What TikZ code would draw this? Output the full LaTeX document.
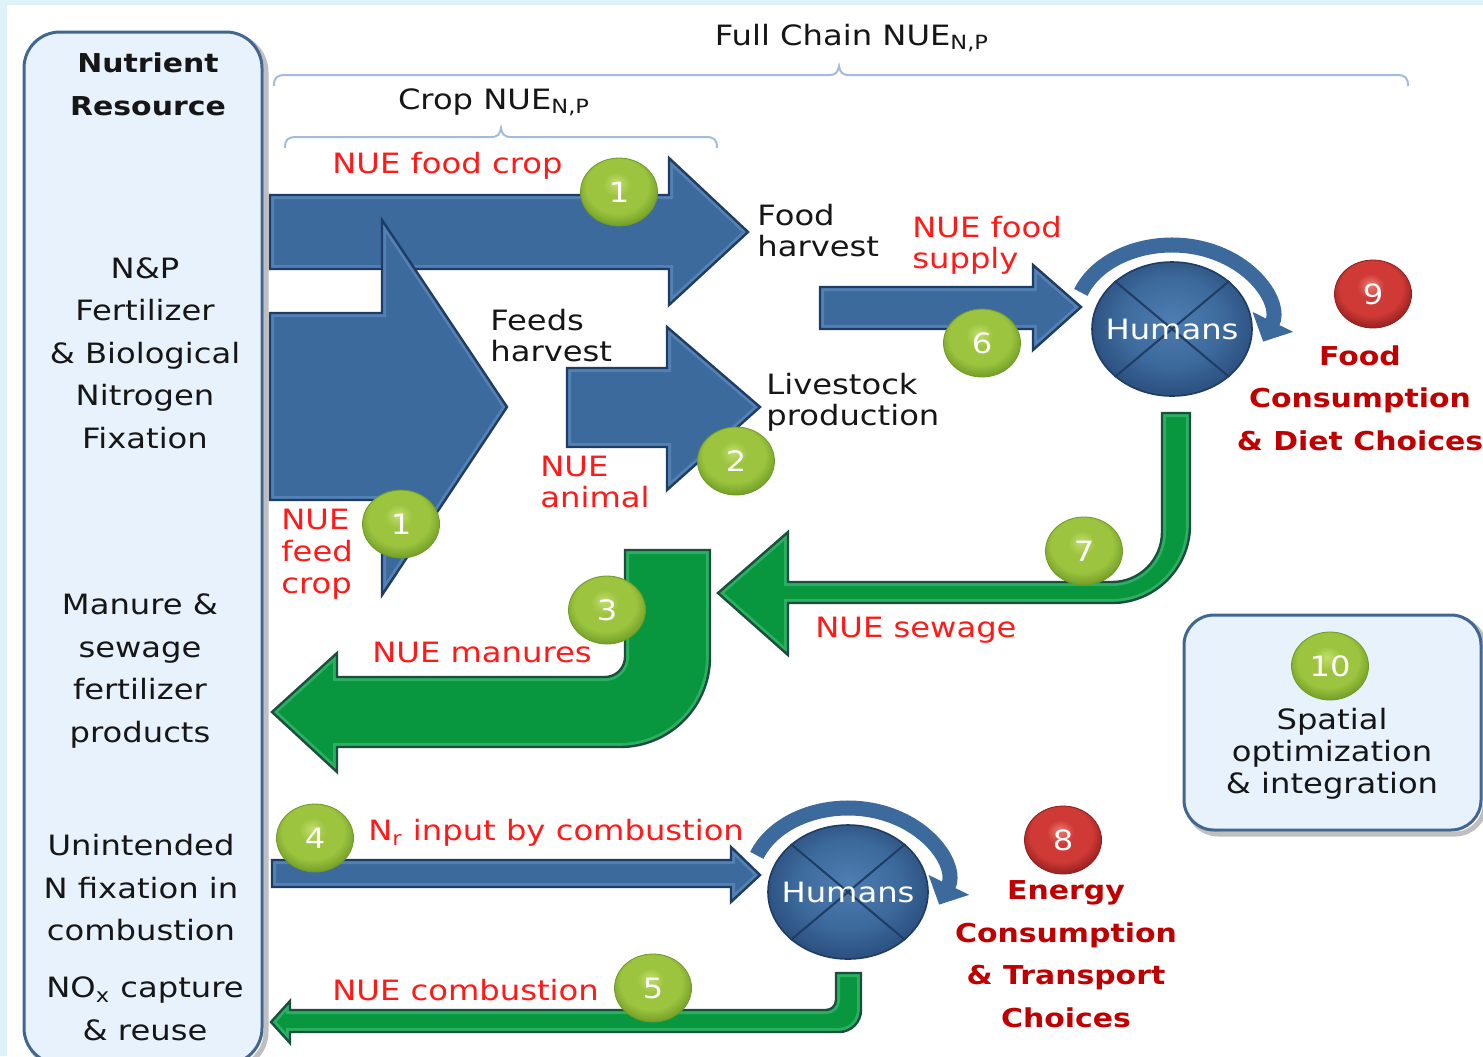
\documentclass[tikz,border=0pt]{standalone}
\usepackage{fontspec}
\setmainfont{DejaVu Sans}[FakeStretch=1.15]
\usetikzlibrary{arrows.meta,shapes.geometric}
\definecolor{bgc}{HTML}{DDF3F8}
\definecolor{boxfill}{HTML}{E8F2FC}
\definecolor{boxedge}{HTML}{41668F}
\definecolor{arrblue}{HTML}{3D6A9C}
\definecolor{arrbluelt}{HTML}{5381B6}
\definecolor{arrblueedge}{HTML}{1F3C62}
\definecolor{arrgreen}{HTML}{08963F}
\definecolor{arrgreenlt}{HTML}{2BB062}
\definecolor{arrgreenedge}{HTML}{1B4E3C}
\definecolor{bracec}{HTML}{A3BBDD}
\definecolor{lblred}{HTML}{FF1A1A}
\definecolor{darkred}{HTML}{C00000}
\definecolor{txt}{HTML}{161616}
\definecolor{gHi}{HTML}{C2DE6E}
\definecolor{gMid}{HTML}{9CC43F}
\definecolor{gRim}{HTML}{6E9A25}
\definecolor{rHi}{HTML}{EE7A74}
\definecolor{rMid}{HTML}{D03A36}
\definecolor{rRim}{HTML}{8F1D1C}
\definecolor{hHi}{HTML}{4E7DB2}
\definecolor{hRim}{HTML}{2A4F7E}
\pgfdeclareradialshading{greenbtn}{\pgfpoint{-2bp}{7bp}}{color(0bp)=(gHi); color(9bp)=(gMid); color(20bp)=(gMid); color(29bp)=(gRim); color(50bp)=(gRim)}
\pgfdeclareradialshading{redbtn}{\pgfpoint{-2bp}{7bp}}{color(0bp)=(rHi); color(9bp)=(rMid); color(20bp)=(rMid); color(29bp)=(rRim); color(50bp)=(rRim)}
\pgfdeclareradialshading{humansh}{\pgfpoint{0bp}{4bp}}{color(0bp)=(hHi); color(16bp)=(arrblue); color(27bp)=(hRim); color(50bp)=(hRim)}
\newcommand\pFood{(270,195) -- (669,195) -- (669,158) -- (748,232) -- (669,305) -- (669,269) -- (270,269) -- cycle}
\newcommand\pFeed{(270,313) -- (382,313) -- (382,220) -- (507,407) -- (382,595) -- (382,500) -- (270,500) -- cycle}
\newcommand\pAnim{(567,368) -- (667,368) -- (667,327) -- (760,407) -- (667,490) -- (667,447) -- (567,447) -- cycle}
\newcommand\pSupply{(820,287) -- (1033,287) -- (1033,265) -- (1081,307) -- (1033,350) -- (1033,329) -- (820,329) -- cycle}
\newcommand\pComb{(272,860) -- (731,860) -- (731,847) -- (760,875) -- (731,902) -- (731,887) -- (272,887) -- cycle}
\newcommand\pSewage{(1162,413) -- (1162,532) arc[start angle=0,end angle=90,radius=50] -- (788,582) -- (788,532) -- (718,593) -- (788,655) -- (788,603) -- (1112,603) arc[start angle=90,end angle=0,radius=78] -- (1190,413) -- cycle}
\newcommand\pManure{(625,550) -- (625,657) arc[start angle=0,end angle=90,radius=20] -- (337,677) -- (337,653) -- (272,712) -- (337,772) -- (337,747) -- (620,747) arc[start angle=90,end angle=0,radius=90] -- (710,550) -- cycle}
\newcommand\pCombOut{(836,973) -- (836,1000) arc[start angle=0,end angle=90,radius=10] -- (290,1010) -- (290,1001) -- (271,1022) -- (290,1043) -- (290,1032) -- (839,1032) arc[start angle=90,end angle=0,radius=22] -- (861,973) -- cycle}
\newcommand\bluearrow[1]{%
  \fill[arrblue] #1;
  \begin{scope}\clip #1; \draw[arrbluelt, line width=4pt, line join=miter] #1; \end{scope}
  \draw[arrblueedge, line width=1.2pt, line join=miter] #1;}
\newcommand\greenarrow[1]{%
  \fill[arrgreen] #1;
  \begin{scope}\clip #1; \draw[arrgreenlt, line width=4pt, line join=miter] #1; \end{scope}
  \draw[arrgreenedge, line width=1.2pt, line join=miter] #1;}
\begin{document}
\begin{tikzpicture}[x=0.5pt,y=-0.5pt,
  btn/.style={ellipse, minimum width=38.5pt, minimum height=34pt, inner sep=0pt, text=white, font=\fontsize{14}{14}\selectfont},
  gbtn/.style={btn, shade, shading=greenbtn, draw=gRim, line width=0.4pt},
  rbtn/.style={btn, shade, shading=redbtn, draw=rRim, line width=0.4pt},
  humans/.style={ellipse, minimum width=80pt, minimum height=67pt, inner sep=0pt, shade, shading=humansh, draw=arrblueedge, line width=0.8pt},
  xline/.style={draw=arrblueedge, line width=1pt},
  harc/.style={draw=arrblue, line width=7.5pt, -{Triangle[length=11pt,width=22pt]}},
  htext/.style={text=white, font=\fontsize{14}{14}\selectfont, inner sep=0pt},
  lbl/.style={text=lblred, font=\fontsize{14}{15.5}\selectfont, inner sep=0pt, align=left, anchor=west},
  blk/.style={text=txt, font=\fontsize{14}{15.5}\selectfont, inner sep=0pt, align=left, anchor=west},
  res/.style={text=txt, font=\fontsize{14}{21.25}\selectfont, inner sep=0pt, align=center},
  choice/.style={text=darkred, font=\fontsize{13}{21.25}\selectfont\bfseries, inner sep=0pt, align=center},
  bracel/.style={draw=bracec, line width=1pt},
  panel/.style={fill=boxfill, draw=boxedge, line width=1.5pt},
  panelshadow/.style={draw=black!25, line width=2.5pt}]
\useasboundingbox (0,0) rectangle (1483,1056);
\clip (0,0) rectangle (1483,1056);
\fill[bgc] (0,0) rectangle (1483,1056);
\fill[white] (7,5) rectangle (1483,1056);
% braces
\draw[bracel] (274,86) .. controls (274,77) and (277,75) .. (286,75) -- (829,75) .. controls (836,75) and (838,72) .. (839,66) .. controls (840,72) and (842,75) .. (849,75) -- (1396,75) .. controls (1405,75) and (1408,77) .. (1408,86);
\draw[bracel] (285,148) .. controls (285,139) and (288,137) .. (297,137) -- (491,137) .. controls (498,137) and (500,134) .. (501,128) .. controls (502,134) and (504,137) .. (511,137) -- (705,137) .. controls (714,137) and (717,139) .. (717,148);
\node[blk, anchor=center] (fcn) at (852,38) {Full Chain NUE\textsubscript{N,P}};
\node[blk, anchor=center] (cn) at (494,102) {Crop NUE\textsubscript{N,P}};
% left panel
\draw[panelshadow, rounded corners=18pt] (28,36) rectangle (266,1068);
\draw[panel, rounded corners=18pt] (24,32) rectangle (262,1064);
\node[res, font=\fontsize{13}{21.5}\selectfont\bfseries] (nr) at (148,84) {Nutrient\\Resource};
\node[res] (np) at (145,353) {N\&P\\Fertilizer\\\& Biological\\Nitrogen\\Fixation};
\node[res] (ms) at (140,671) {Manure \&\\sewage\\fertilizer\\products};
\node[res] (un) at (141,888) {Unintended\\N fixation in\\combustion};
\node[res] (nox) at (145,1009) {NO\textsubscript{x} capture\\\& reuse};
% blue arrows
\bluearrow{\pFood}
\bluearrow{\pFeed}
\bluearrow{\pAnim}
\bluearrow{\pSupply}
\bluearrow{\pComb}
% green arrows
\greenarrow{\pSewage}
\greenarrow{\pManure}
\greenarrow{\pCombOut}
% humans
\node[humans] (h1) at (1172,329) {};
\draw[xline] (h1.north west) -- (h1.south east) (h1.north east) -- (h1.south west);
\node[htext] (h1t) at (h1.center) {Humans};
\draw[harc] ([yshift=6pt]h1.center) ++(200:97 and 72) arc[start angle=200, end angle=380, x radius=97, y radius=72];
\node[humans] (h2) at (848,892) {};
\draw[xline] (h2.north west) -- (h2.south east) (h2.north east) -- (h2.south west);
\node[htext] (h2t) at (h2.center) {Humans};
\draw[harc] ([yshift=6pt]h2.center) ++(200:97 and 72) arc[start angle=200, end angle=380, x radius=97, y radius=72];
% spatial panel
\draw[panelshadow, rounded corners=15pt] (1188,619) rectangle (1485,834);
\draw[panel, rounded corners=15pt] (1184,615) rectangle (1481,830);
\node[res, font=\fontsize{14}{16}\selectfont] (sp) at (1332,754) {Spatial\\optimization\\\& integration};
% labels
\node[lbl] (l1) at (332,166) {NUE food crop};
\node[blk] (fh) at (757,231) {Food\\harvest};
\node[lbl] (lfs) at (912,245) {NUE food\\supply};
\node[blk] (fdh) at (490,336) {Feeds\\harvest};
\node[blk] (lp) at (766,402) {Livestock\\production};
\node[lbl] (la) at (540,482) {NUE\\animal};
\node[lbl, font=\fontsize{14}{16}\selectfont] (lfc) at (281,554) {NUE\\feed\\crop};
\node[lbl] (lm) at (372,652) {NUE manures};
\node[lbl] (ls) at (815,630) {NUE sewage};
\node[lbl] (lc) at (368,833) {N\textsubscript{r} input by combustion};
\node[lbl] (lnc) at (332,990) {NUE combustion};
\node[choice] (fc) at (1360,398) {Food\\Consumption\\\& Diet Choices};
\node[choice] (ec) at (1066,954) {Energy\\Consumption\\\& Transport\\Choices};
% buttons
\node[gbtn] (b1a) at (619,192) {1};
\node[gbtn] (b1b) at (401,524) {1};
\node[gbtn] (b2) at (736,461) {2};
\node[gbtn] (b3) at (607,610) {3};
\node[gbtn] (b4) at (315,838) {4};
\node[gbtn] (b5) at (653,988) {5};
\node[gbtn] (b6) at (982,343) {6};
\node[gbtn] (b7) at (1084,551) {7};
\node[gbtn] (b10) at (1330,666) {10};
\node[rbtn] (b9) at (1373,294) {9};
\node[rbtn] (b8) at (1063,840) {8};
\end{tikzpicture}
\end{document}
